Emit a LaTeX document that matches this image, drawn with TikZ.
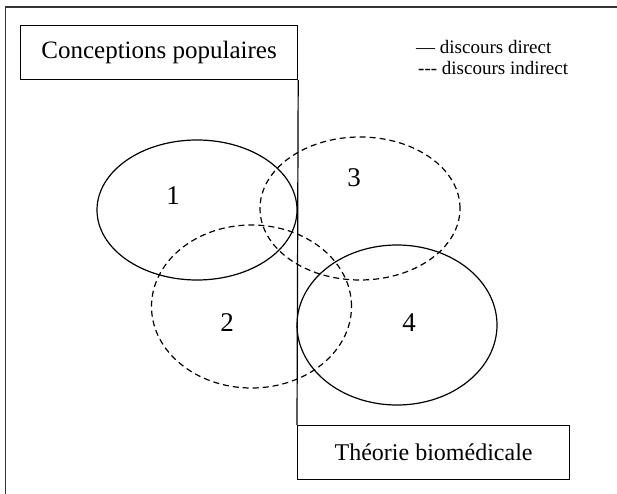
\documentclass[tikz,border=0pt]{standalone}
\usepackage{fontspec}
\setmainfont{Liberation Serif}
\usetikzlibrary{positioning}

\begin{document}
\begin{tikzpicture}[x=1pt,y=-1pt,
  cadre/.style={draw,line width=1.2pt,minimum height=54pt,inner sep=0pt,
    font=\fontsize{24}{28}\selectfont},
  zone/.style={line width=1.2pt},
  indirect/.style={zone,dash pattern=on 6pt off 4pt},
  num/.style={font=\fontsize{27}{30}\selectfont},
  legende/.style={anchor=west,inner sep=0pt,font=\fontsize{19}{22}\selectfont}]
\useasboundingbox (0,0) rectangle (617,494);
\draw[line width=1.8pt,black!80] (5.5,494) -- (5.5,7) -- (617,7);

\node[cadre,minimum width=277pt,anchor=north west,
  font=\fontsize{25}{29}\selectfont] (pop) at (20,25) {Conceptions populaires};
\node[cadre,minimum width=272pt,anchor=north west] (bio) at (297,425) {Théorie biomédicale};
\draw[zone] (pop.south east) -- (bio.north west);

\node[legende] (direct) at (416,47) {— discours direct};
\node[legende] (indir) at (418,68) {-{}-{}- discours indirect};

\coordinate (c1) at (197,210);
\coordinate (c2) at (251.5,306.5);
\coordinate (c3) at (360,208.5);
\coordinate (c4) at (397,325);
\draw[zone] (c1) ellipse [x radius=100pt,y radius=70pt];
\draw[indirect] (c2) ellipse [x radius=100pt,y radius=81.5pt];
\draw[indirect] (c3) ellipse [x radius=100pt,y radius=71.5pt];
\draw[zone] (c4) ellipse [x radius=100pt,y radius=80pt];

\node[num] (n1) at (173,196) {1};
\node[num] (n2) at (227,323) {2};
\node[num] (n3) at (354,178) {3};
\node[num] (n4) at (409,323) {4};
\end{tikzpicture}
\end{document}
